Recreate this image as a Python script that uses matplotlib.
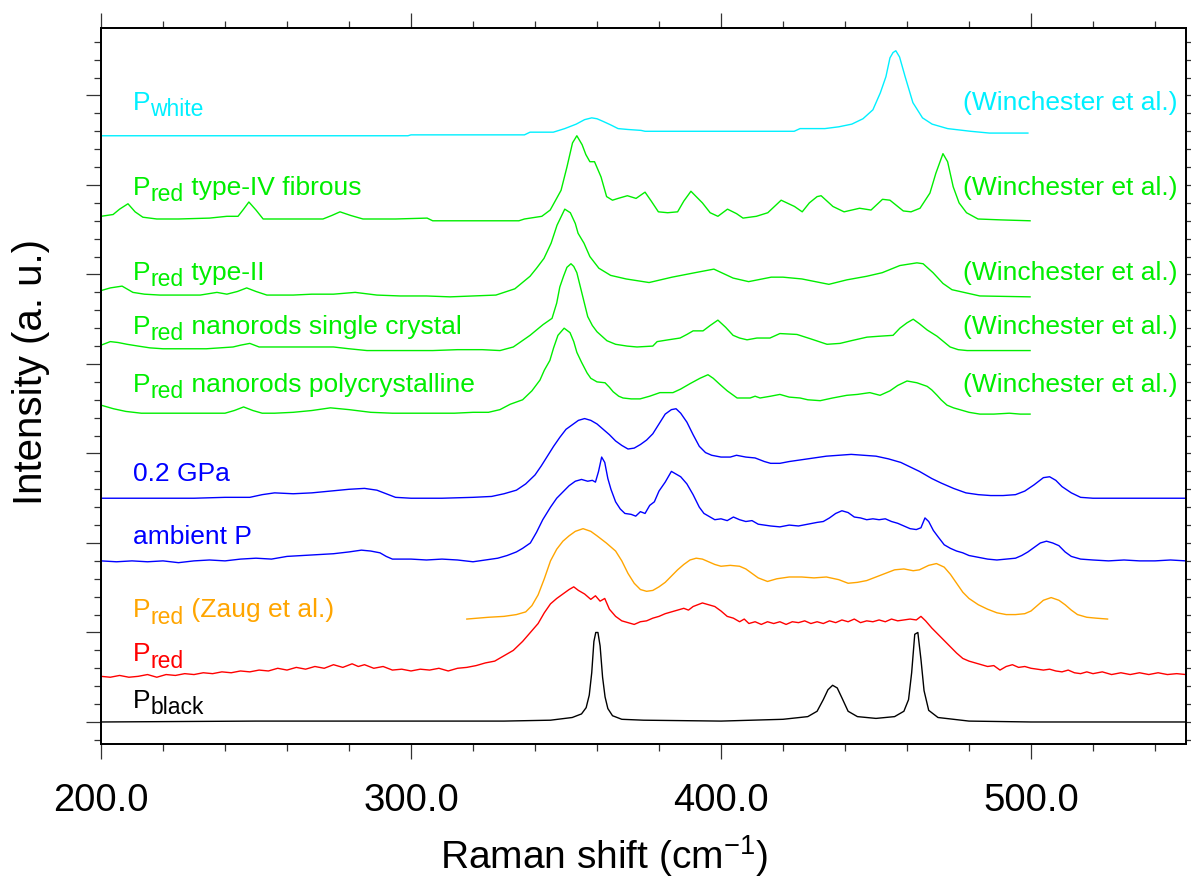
import matplotlib
matplotlib.use("Agg")
import matplotlib.pyplot as plt
from matplotlib.ticker import MultipleLocator, FormatStrFormatter
from matplotlib.transforms import offset_copy

plt.rcParams['font.family'] = ['Liberation Sans', 'DejaVu Sans']
plt.rcParams['mathtext.default'] = 'regular'

# spectra (Raman shift in cm-1, stacked intensity in a.u.)
black_x = [200, 250, 300, 330, 345, 352, 355, 356.5, 357.5, 358.3, 359, 359.6, 360.3, 361, 361.8, 362.6, 363.5, 365, 368,
           375, 400, 420, 428, 431, 433, 434.5, 436, 437.5, 439, 441, 444, 450, 456, 459, 460.5, 461.5, 462.5, 463.5,
           464.5, 465.5, 467, 470, 480, 500, 550]
black_y = [0.0, 0.01, 0.01, 0.01, 0.02, 0.05, 0.09, 0.16, 0.3, 0.55, 0.9, 1.0, 1.0, 0.85, 0.5, 0.28, 0.15, 0.07, 0.03,
           0.02, 0.01, 0.03, 0.06, 0.12, 0.25, 0.36, 0.41, 0.38, 0.27, 0.12, 0.06, 0.04, 0.06, 0.12, 0.25, 0.55, 0.98,
           1.0, 0.7, 0.35, 0.13, 0.05, 0.01, 0.0, 0.0]

red_x = [200, 203, 206, 209, 212, 215, 218, 221, 224, 227, 230, 233, 236, 239, 242, 245, 248, 251, 254, 257, 260, 263,
         266, 269, 272, 275, 278, 281, 283, 285, 288, 291, 294, 297, 300, 303, 306, 309, 312, 315, 318, 321, 324, 327,
         330, 333, 336, 339, 341, 343, 345, 347, 349, 351, 352.5, 354, 356, 358, 359.5, 361, 362.5, 364, 366, 368,
         370, 372, 374, 376, 378, 380, 382, 384, 386, 388, 389.5, 391, 392.5, 394, 396, 398, 400, 402, 404, 406,
         407.5, 409, 411, 413, 415, 417, 419, 421, 423, 425, 427, 429, 431, 433, 435, 437, 439, 441, 443, 445, 447,
         449, 451, 453, 455, 457, 459, 461, 463, 464.5, 466, 468, 470, 472, 474, 476, 478, 480, 482, 484, 486, 488,
         490, 492, 494, 496, 498, 500, 502, 504, 506, 508, 510, 512, 514, 516, 518, 520, 523, 526, 529, 532, 535,
         538, 541, 544, 547, 550]
red_y = [0.51, 0.50, 0.52, 0.50, 0.51, 0.53, 0.50, 0.53, 0.52, 0.54, 0.53, 0.55, 0.54, 0.56, 0.55, 0.57, 0.56, 0.58,
         0.57, 0.60, 0.58, 0.61, 0.59, 0.62, 0.60, 0.64, 0.61, 0.65, 0.62, 0.64, 0.60, 0.62, 0.58, 0.59, 0.57, 0.59,
         0.58, 0.60, 0.57, 0.60, 0.61, 0.63, 0.66, 0.68, 0.74, 0.80, 0.90, 1.02, 1.10, 1.22, 1.32, 1.38, 1.43, 1.48,
         1.51, 1.47, 1.43, 1.37, 1.41, 1.35, 1.38, 1.26, 1.18, 1.13, 1.11, 1.09, 1.12, 1.13, 1.16, 1.18, 1.21, 1.23,
         1.25, 1.27, 1.25, 1.29, 1.31, 1.33, 1.31, 1.29, 1.24, 1.18, 1.16, 1.12, 1.15, 1.10, 1.12, 1.09, 1.12, 1.10,
         1.12, 1.09, 1.12, 1.11, 1.13, 1.10, 1.12, 1.10, 1.13, 1.11, 1.14, 1.12, 1.15, 1.11, 1.13, 1.12, 1.14, 1.12,
         1.15, 1.13, 1.14, 1.15, 1.14, 1.18, 1.13, 1.05, 0.98, 0.91, 0.84, 0.77, 0.71, 0.68, 0.66, 0.64, 0.62, 0.63,
         0.58, 0.62, 0.64, 0.61, 0.62, 0.60, 0.59, 0.58, 0.59, 0.57, 0.56, 0.58, 0.55, 0.54, 0.56, 0.54, 0.56, 0.53,
         0.55, 0.53, 0.55, 0.53, 0.55, 0.53, 0.54, 0.53]

zaug_x = [318, 325, 330, 334, 337, 339, 341, 343, 345, 347, 349, 351, 353, 355.5, 358, 360, 363, 366, 368, 370, 372,
          374, 376, 378, 380, 382, 384, 386, 388, 390, 392, 394, 396, 398, 400, 403, 406, 408, 410, 412, 415, 418,
          422, 426, 430, 434, 438, 441, 444, 447, 450, 453, 456, 459, 462, 464, 467, 469.5, 472, 474, 476, 478, 480,
          483, 486, 489, 492, 495, 498, 500, 502, 504, 506.5, 509, 511, 513, 515, 518, 521, 524.7]
zaug_y = [1.15, 1.17, 1.18, 1.20, 1.23, 1.30, 1.42, 1.60, 1.80, 1.93, 2.02, 2.08, 2.13, 2.16, 2.13, 2.08, 2.00, 1.91,
          1.80, 1.66, 1.55, 1.48, 1.46, 1.47, 1.51, 1.56, 1.63, 1.70, 1.76, 1.81, 1.83, 1.82, 1.79, 1.76, 1.74, 1.75,
          1.74, 1.71, 1.66, 1.61, 1.57, 1.60, 1.62, 1.62, 1.61, 1.62, 1.59, 1.55, 1.56, 1.58, 1.62, 1.66, 1.70, 1.71,
          1.69, 1.70, 1.75, 1.77, 1.73, 1.65, 1.55, 1.45, 1.38, 1.31, 1.26, 1.22, 1.20, 1.20, 1.21, 1.24, 1.30, 1.36,
          1.39, 1.36, 1.31, 1.25, 1.20, 1.17, 1.16, 1.15]

amb_x = [200, 205, 210, 215, 220, 225, 230, 235, 240, 245, 250, 255, 260, 265, 270, 275, 280, 284, 287, 290, 292, 294,
         300, 305, 310, 315, 320, 324, 328, 331, 334, 336, 338.5, 340.5, 342.5, 345, 347, 349, 351, 353, 355, 357,
         358.5, 359.5, 360.5, 361.5, 362.5, 363.5, 364.5, 366, 367.5, 369, 371, 372.5, 374, 375.5, 377, 378.5, 380,
         382, 384, 385.5, 387, 389, 391, 393, 394.5, 396, 398, 400, 402, 404, 406, 408, 410, 412, 414, 416, 419, 422,
         425, 428, 431, 433, 435, 437, 439, 441, 443, 445, 447, 449, 451, 453, 455, 457, 459, 461, 463, 464.5, 465.8,
         467, 468.5, 470, 472, 474, 476, 478, 480, 483, 486, 489, 492, 495, 497, 499, 501, 503, 505, 507, 509, 511,
         513, 516, 520, 525, 530, 535, 540, 545, 550]
amb_y = [1.80, 1.79, 1.80, 1.79, 1.80, 1.78, 1.80, 1.81, 1.80, 1.82, 1.83, 1.82, 1.85, 1.86, 1.87, 1.88, 1.90, 1.92,
         1.91, 1.89, 1.85, 1.82, 1.82, 1.81, 1.82, 1.81, 1.79, 1.81, 1.83, 1.86, 1.90, 1.94, 2.00, 2.12, 2.26, 2.40,
         2.50, 2.57, 2.64, 2.69, 2.71, 2.69, 2.70, 2.68, 2.80, 2.96, 2.90, 2.72, 2.60, 2.46, 2.38, 2.33, 2.32, 2.30,
         2.35, 2.33, 2.42, 2.46, 2.58, 2.68, 2.80, 2.77, 2.74, 2.66, 2.54, 2.40, 2.33, 2.30, 2.26, 2.27, 2.25, 2.29,
         2.26, 2.24, 2.25, 2.21, 2.20, 2.19, 2.18, 2.20, 2.19, 2.21, 2.23, 2.24, 2.28, 2.33, 2.36, 2.34, 2.29, 2.28,
         2.26, 2.27, 2.26, 2.27, 2.24, 2.22, 2.19, 2.16, 2.15, 2.17, 2.28, 2.24, 2.14, 2.07, 1.98, 1.94, 1.91, 1.89,
         1.86, 1.84, 1.82, 1.81, 1.82, 1.83, 1.86, 1.90, 1.95, 2.00, 2.02, 2.00, 1.97, 1.90, 1.85, 1.82, 1.81, 1.80,
         1.81, 1.80, 1.80, 1.81, 1.80]

gpa_x = [200, 210, 220, 230, 240, 248, 252, 256, 262, 268, 274, 280, 285, 289, 292, 295, 300, 310, 320, 326, 330,
         334, 337, 340, 342, 344, 346, 348, 350, 352, 354, 356, 358, 360, 362, 364, 366, 368, 370, 372, 374, 376,
         378, 380, 382, 384, 385.5, 387, 389, 391, 393, 395, 397, 400, 403, 405, 408, 411, 414, 416, 419, 422, 426,
         430, 434, 438, 442, 446, 450, 454, 458, 461, 464, 468, 471, 475, 479, 483, 487, 491, 495, 498, 501, 504,
         506, 508, 510, 513, 516, 520, 530, 540, 550]
gpa_y = [2.50, 2.50, 2.50, 2.50, 2.51, 2.51, 2.54, 2.56, 2.55, 2.56, 2.58, 2.60, 2.61, 2.59, 2.55, 2.51, 2.50, 2.50,
         2.51, 2.52, 2.55, 2.59, 2.66, 2.76, 2.86, 2.97, 3.08, 3.18, 3.27, 3.32, 3.37, 3.39, 3.37, 3.33, 3.27, 3.21,
         3.14, 3.09, 3.05, 3.06, 3.10, 3.15, 3.22, 3.33, 3.44, 3.49, 3.50, 3.45, 3.35, 3.21, 3.08, 3.01, 2.98, 2.96,
         2.96, 2.98, 2.96, 2.95, 2.91, 2.89, 2.89, 2.91, 2.93, 2.95, 2.97, 2.98, 2.99, 2.98, 2.97, 2.94, 2.90, 2.85,
         2.80, 2.72, 2.67, 2.61, 2.56, 2.54, 2.53, 2.53, 2.54, 2.58, 2.65, 2.73, 2.74, 2.70, 2.63, 2.56, 2.51, 2.50,
         2.50, 2.50, 2.50]

poly_x = [200, 204, 208, 213, 220, 226, 232, 240, 243, 246, 249, 252, 256, 262, 268, 274, 280, 287, 294, 300, 307,
          314, 320, 325, 328.7, 332, 336, 339, 341.6, 343, 344.8, 346, 347.4, 349.4, 351.3, 352.5, 353.5, 355, 356.8,
          358, 360, 362.6, 364, 365.2, 367, 368.4, 371, 373.9, 377, 380.3, 384.5, 387, 390, 393.2, 395.8, 397.5,
          399.7, 402, 405.2, 409.4, 411, 412.6, 416, 419, 422, 425.5, 428, 432, 436, 440.6, 444, 448, 451.3, 454.5,
          457, 460, 463.2, 466.5, 468, 469.7, 471, 472.9, 475, 477, 480, 483.5, 488, 493, 496.5, 499.7]
poly_y = [3.54, 3.50, 3.47, 3.45, 3.45, 3.45, 3.45, 3.45, 3.48, 3.52, 3.48, 3.45, 3.45, 3.46, 3.48, 3.51, 3.49, 3.46,
          3.45, 3.45, 3.45, 3.45, 3.46, 3.46, 3.49, 3.55, 3.60, 3.70, 3.82, 3.93, 4.04, 4.18, 4.32, 4.40, 4.35, 4.25,
          4.13, 4.02, 3.90, 3.84, 3.80, 3.79, 3.74, 3.69, 3.64, 3.62, 3.61, 3.61, 3.64, 3.68, 3.68, 3.72, 3.78, 3.84,
          3.88, 3.84, 3.77, 3.70, 3.62, 3.62, 3.64, 3.62, 3.64, 3.66, 3.63, 3.62, 3.60, 3.59, 3.62, 3.65, 3.66, 3.68,
          3.65, 3.70, 3.76, 3.81, 3.79, 3.75, 3.71, 3.65, 3.60, 3.54, 3.51, 3.49, 3.46, 3.44, 3.44, 3.45, 3.44, 3.44]

single_x = [200, 203, 205.5, 208.4, 212, 215.8, 220, 226.5, 234, 242.6, 245, 248, 251, 255.5, 265, 275, 280, 285.8,
            295, 307, 315, 323, 328.7, 333, 335.5, 338.4, 340.5, 342.6, 345.5, 347, 348, 349.2, 350.3, 351.6, 352.5,
            353.5, 354.5, 355.5, 357, 358.5, 360, 363.2, 366, 369.7, 372.9, 378, 379.4, 383, 386.8, 389, 391, 394.2,
            396.5, 399, 401.5, 403.9, 406, 408.4, 411.6, 415.8, 419, 424.5, 429, 434.2, 438.4, 442, 447.1, 451, 455.5,
            457.7, 460, 462, 464, 466.5, 469.7, 471.8, 473.9, 476.5, 479.4, 490, 499.7]
single_y = [4.21, 4.25, 4.24, 4.22, 4.20, 4.18, 4.17, 4.17, 4.17, 4.19, 4.21, 4.23, 4.19, 4.19, 4.19, 4.19, 4.17,
            4.15, 4.15, 4.15, 4.16, 4.16, 4.15, 4.19, 4.25, 4.32, 4.38, 4.44, 4.51, 4.68, 4.86, 4.98, 5.08, 5.12, 5.09,
            5.02, 4.88, 4.74, 4.53, 4.43, 4.36, 4.26, 4.22, 4.20, 4.19, 4.20, 4.25, 4.27, 4.29, 4.33, 4.37, 4.37, 4.43,
            4.49, 4.41, 4.32, 4.29, 4.27, 4.29, 4.29, 4.34, 4.33, 4.28, 4.22, 4.23, 4.26, 4.30, 4.31, 4.32, 4.40, 4.46,
            4.50, 4.45, 4.38, 4.31, 4.25, 4.19, 4.16, 4.15, 4.15, 4.15]

type2_x = [200, 203, 206.8, 210.3, 214, 219, 225, 232, 237.4, 240.6, 244, 247, 250, 253.5, 262, 268, 275, 282, 289,
           296.5, 305, 312.6, 320, 327.4, 333.5, 338.4, 340.5, 342.9, 345.2, 347.1, 349.6, 351.4, 353, 353.9, 355.8,
           357.7, 360.6, 364.4, 369.4, 376.8, 384.2, 391.6, 397.7, 403.9, 408.9, 416.2, 420, 426.1, 434.8, 440.6,
           447, 452, 457.7, 463.2, 465.2, 468.4, 471.6, 474.5, 483.5, 499.7]
type2_y = [4.82, 4.85, 4.87, 4.80, 4.78, 4.77, 4.77, 4.77, 4.80, 4.78, 4.81, 4.85, 4.81, 4.77, 4.77, 4.78, 4.78,
           4.80, 4.77, 4.76, 4.76, 4.75, 4.76, 4.77, 4.84, 4.98, 5.07, 5.18, 5.35, 5.55, 5.73, 5.69, 5.57, 5.46, 5.35,
           5.20, 5.07, 4.99, 4.95, 4.91, 4.97, 5.02, 5.06, 4.96, 4.92, 4.97, 4.97, 4.95, 4.89, 4.94, 4.98, 5.02, 5.10,
           5.13, 5.12, 5.02, 4.90, 4.83, 4.76, 4.75]

fib_x = [200, 203.9, 206, 208.7, 211, 213.5, 218, 225, 235, 240.6, 244.2, 246, 247.7, 250, 252.3, 260, 271.6, 274.5,
         277.1, 280.5, 284.5, 295, 305.2, 307, 320, 334.8, 336.6, 342.2, 344.9, 346.5, 348.4, 350.3, 352.1, 353.5,
         355.2, 356.4, 357.7, 359.2, 361.3, 363.1, 365, 366.8, 369.8, 372.6, 375.5, 377.5, 379.8, 382.8, 386, 388,
         390.3, 392, 394, 396.5, 399, 402.1, 405, 407.1, 411.4, 415.1, 419.4, 423.7, 426.2, 428.5, 431, 432.3, 436.1,
         439.7, 444.7, 448.4, 452.1, 454.5, 458.8, 461.3, 464.2, 467.4, 469.3, 471.6, 473.1, 474.9, 476.8, 479.2,
         482.9, 490.3, 499.7]
fib_y = [5.65, 5.67, 5.73, 5.79, 5.70, 5.64, 5.62, 5.62, 5.63, 5.65, 5.65, 5.73, 5.81, 5.72, 5.62, 5.62, 5.62, 5.66,
         5.70, 5.66, 5.62, 5.62, 5.63, 5.60, 5.60, 5.60, 5.62, 5.65, 5.72, 5.82, 5.94, 6.20, 6.47, 6.55, 6.45, 6.34,
         6.26, 6.26, 6.09, 5.87, 5.83, 5.85, 5.88, 5.85, 5.92, 5.82, 5.70, 5.69, 5.70, 5.82, 5.93, 5.87, 5.80, 5.69,
         5.65, 5.73, 5.68, 5.63, 5.65, 5.69, 5.83, 5.76, 5.70, 5.80, 5.87, 5.88, 5.76, 5.70, 5.74, 5.72, 5.84, 5.83,
         5.71, 5.70, 5.74, 5.91, 6.13, 6.35, 6.26, 5.98, 5.80, 5.69, 5.62, 5.61, 5.60]

white_x = [200, 250, 299, 300, 336.6, 338.4, 345.9, 349.6, 353.3, 356, 358.3, 360, 362, 364.5, 366.8, 370, 374.2,
           375.5, 423.6, 425.5, 433.5, 438, 442.2, 445.8, 449, 451.4, 453.2, 454.5, 455.5, 456.4, 457.6, 459.4,
           461.9, 465, 468.1, 473.1, 480.5, 486.6, 499]
white_y = [6.55, 6.55, 6.55, 6.56, 6.56, 6.59, 6.59, 6.63, 6.68, 6.73, 6.75, 6.74, 6.71, 6.67, 6.63, 6.62, 6.61, 6.60,
           6.60, 6.63, 6.63, 6.65, 6.68, 6.74, 6.84, 7.03, 7.21, 7.42, 7.48, 7.50, 7.43, 7.21, 6.92, 6.75, 6.68, 6.63,
           6.60, 6.58, 6.58]

CYAN = '#00F0FF'
GREEN = '#00EE00'
BLUE = '#0000FF'
ORANGE = '#FFA500'
RED = '#FF0000'

# left labels: (main text, subscript, rest, colour, baseline level)
left_labels = [
    ('P', 'white', '', CYAN, 6.84),
    ('P', 'red', ' type-IV fibrous', GREEN, 5.89),
    ('P', 'red', ' type-II', GREEN, 4.94),
    ('P', 'red', ' nanorods single crystal', GREEN, 4.34),
    ('P', 'red', ' nanorods polycrystalline', GREEN, 3.69),
    ('0.2 GPa', '', '', BLUE, 2.69),
    ('ambient P', '', '', BLUE, 1.99),
    ('P', 'red', ' (Zaug et al.)', ORANGE, 1.17),
    ('P', 'red', '', RED, 0.68),
    ('P', 'black', '', 'black', 0.16),
]
right_labels = [
    ('(Winchester et al.)', CYAN, 6.84),
    ('(Winchester et al.)', GREEN, 5.89),
    ('(Winchester et al.)', GREEN, 4.94),
    ('(Winchester et al.)', GREEN, 4.34),
    ('(Winchester et al.)', GREEN, 3.69),
]

curves = [
    (black_x, black_y, 'black'),
    (red_x, red_y, RED),
    (zaug_x, zaug_y, ORANGE),
    (amb_x, amb_y, BLUE),
    (gpa_x, gpa_y, BLUE),
    (poly_x, poly_y, GREEN),
    (single_x, single_y, GREEN),
    (type2_x, type2_y, GREEN),
    (fib_x, fib_y, GREEN),
    (white_x, white_y, CYAN),
]

fig = plt.figure(figsize=(11.91, 8.80), dpi=100)
ax = fig.add_axes([101 / 1191, 1 - 744 / 880, 1085 / 1191, 716 / 880])
renderer = fig.canvas.get_renderer()

for xs, ys, c in curves:
    ax.plot(xs, ys, color=c, lw=1.0)


def put_label(x, y, main, sub, rest, color):
    # write text piece by piece so the subscript can be big, like in the original
    dx = 0.0
    for s, size, dy in ((main, 19, 0), (sub, 16.5, -4.7), (rest, 19, 0)):
        if not s:
            continue
        tr = offset_copy(ax.transData, fig=fig, x=dx, y=dy, units='points')
        t = ax.text(x, y, s, color=color, fontsize=size, ha='left', va='baseline', transform=tr)
        dx += t.get_window_extent(renderer).width * 72.0 / fig.dpi


for main, sub, rest, c, yb in left_labels:
    put_label(210.3, yb, main, sub, rest, c)
for txt, c, yb in right_labels:
    ax.text(547.1, yb, txt, color=c, fontsize=19, ha='right', va='baseline')

ax.set_xlim(200, 550)
ax.set_ylim(-0.246, 7.754)

ax.xaxis.set_major_locator(MultipleLocator(100))
ax.xaxis.set_minor_locator(MultipleLocator(20))
ax.xaxis.set_major_formatter(FormatStrFormatter('%.1f'))
ax.yaxis.set_major_locator(MultipleLocator(1))
ax.yaxis.set_minor_locator(MultipleLocator(0.2))

ax.tick_params(which='both', direction='out', top=True, bottom=True, left=True, right=False,
               labelleft=False, width=0.9, color='#333333')
ax.tick_params(which='major', length=11, labelsize=27.5, pad=17)
ax.tick_params(which='minor', length=5)

# right side: short ticks only
ax2 = ax.twinx()
ax2.set_ylim(ax.get_ylim())
ax2.yaxis.set_major_locator(MultipleLocator(0.2))
ax2.tick_params(direction='out', length=4, width=0.9, color='#333333', labelright=False)

for a in (ax, ax2):
    for s in a.spines.values():
        s.set_linewidth(1.3)

ax.set_xlabel('Raman shift (cm$^{-1}$)', fontsize=28, va='baseline')
ax.xaxis.set_label_coords(0.4636, -0.1746)
ax.set_ylabel('Intensity (a. u.)', fontsize=29)
ax.yaxis.set_label_coords(-0.047, 0.52)

fig.savefig('out.png', dpi=100)
